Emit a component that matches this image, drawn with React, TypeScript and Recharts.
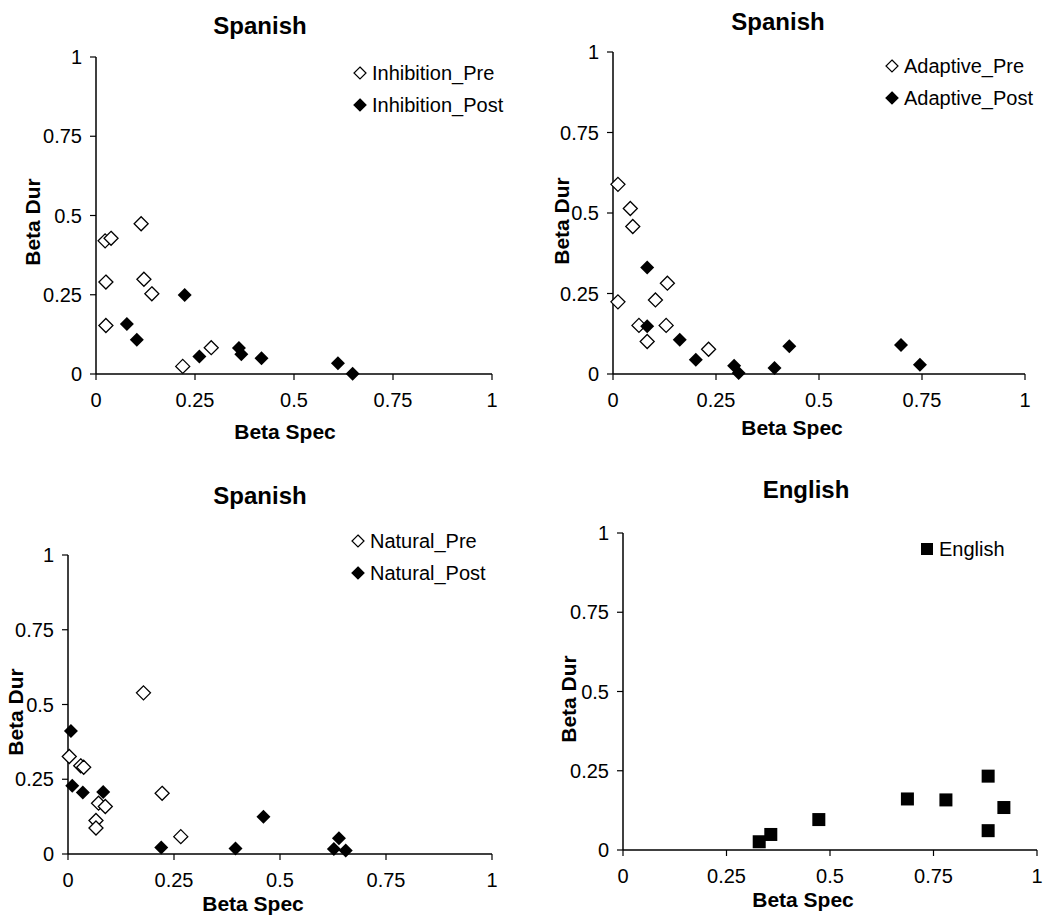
import React from 'react';
import { ScatterChart, Scatter, XAxis, YAxis } from 'recharts';

const axisTicks = [0, 0.25, 0.5, 0.75, 1];

const inhibitionPre = [
  { x: 0.023, y: 0.42 },
  { x: 0.038, y: 0.428 },
  { x: 0.114, y: 0.474 },
  { x: 0.025, y: 0.29 },
  { x: 0.121, y: 0.299 },
  { x: 0.141, y: 0.253 },
  { x: 0.025, y: 0.153 },
  { x: 0.219, y: 0.024 },
  { x: 0.291, y: 0.083 },
];
const inhibitionPost = [
  { x: 0.224, y: 0.249 },
  { x: 0.078, y: 0.158 },
  { x: 0.103, y: 0.108 },
  { x: 0.261, y: 0.055 },
  { x: 0.361, y: 0.082 },
  { x: 0.367, y: 0.062 },
  { x: 0.418, y: 0.05 },
  { x: 0.611, y: 0.034 },
  { x: 0.648, y: 0.001 },
];

const adaptivePre = [
  { x: 0.012, y: 0.589 },
  { x: 0.042, y: 0.514 },
  { x: 0.048, y: 0.458 },
  { x: 0.012, y: 0.224 },
  { x: 0.132, y: 0.282 },
  { x: 0.103, y: 0.23 },
  { x: 0.063, y: 0.151 },
  { x: 0.129, y: 0.151 },
  { x: 0.083, y: 0.101 },
  { x: 0.232, y: 0.077 },
];
const adaptivePost = [
  { x: 0.083, y: 0.331 },
  { x: 0.083, y: 0.148 },
  { x: 0.162, y: 0.106 },
  { x: 0.201, y: 0.044 },
  { x: 0.294, y: 0.026 },
  { x: 0.305, y: 0.003 },
  { x: 0.392, y: 0.019 },
  { x: 0.428, y: 0.086 },
  { x: 0.699, y: 0.09 },
  { x: 0.745, y: 0.029 },
];

const naturalPre = [
  { x: 0.178, y: 0.539 },
  { x: 0.003, y: 0.326 },
  { x: 0.03, y: 0.295 },
  { x: 0.037, y: 0.29 },
  { x: 0.222, y: 0.203 },
  { x: 0.072, y: 0.17 },
  { x: 0.088, y: 0.159 },
  { x: 0.066, y: 0.112 },
  { x: 0.066, y: 0.087 },
  { x: 0.266, y: 0.058 },
];
const naturalPost = [
  { x: 0.007, y: 0.411 },
  { x: 0.01, y: 0.228 },
  { x: 0.035, y: 0.206 },
  { x: 0.083, y: 0.207 },
  { x: 0.461, y: 0.125 },
  { x: 0.22, y: 0.022 },
  { x: 0.395, y: 0.018 },
  { x: 0.627, y: 0.017 },
  { x: 0.639, y: 0.053 },
  { x: 0.655, y: 0.012 },
];

const english = [
  { x: 0.329, y: 0.026 },
  { x: 0.357, y: 0.049 },
  { x: 0.473, y: 0.096 },
  { x: 0.687, y: 0.161 },
  { x: 0.78, y: 0.158 },
  { x: 0.882, y: 0.233 },
  { x: 0.92, y: 0.134 },
  { x: 0.882, y: 0.061 },
];

const FONT = '"Liberation Sans", Arial, sans-serif';

type Kind = 'open' | 'filled' | 'square';

// marker drawn around the point centre
const Marker = ({ cx, cy, kind }: { cx: number; cy: number; kind: Kind }) => {
  if (kind === 'square') {
    const h = 6.5;
    return <rect x={cx - h} y={cy - h} width={h * 2} height={h * 2} fill="#000" />;
  }
  const r = 7;
  const pts = `${cx},${cy - r} ${cx + r},${cy} ${cx},${cy + r} ${cx - r},${cy}`;
  return kind === 'open' ? (
    <polygon points={pts} fill="#fff" stroke="#000" strokeWidth={1.3} />
  ) : (
    <polygon points={pts} fill="#000" />
  );
};

type Series = { name: string; data: { x: number; y: number }[]; kind: Kind };

type PanelProps = {
  box: [number, number, number, number];
  title: string;
  titleAt: [number, number];
  xLabelAt: [number, number];
  yLabelAt: [number, number];
  legendAt: [number, number];
  series: Series[];
};

const tickStyle = { fill: '#000', fontSize: 20, fontFamily: FONT };

const Panel = ({ box, title, titleAt, xLabelAt, yLabelAt, legendAt, series }: PanelProps) => {
  const [x0, y0, x1, y1] = box;
  const padL = 70;
  const padT = 12;
  const padR = 20;
  const padB = 45;
  return (
    <>
      <div style={{ position: 'absolute', left: x0 - padL, top: y0 - padT }}>
        <ScatterChart
          width={x1 - x0 + padL + padR}
          height={y1 - y0 + padT + padB}
          margin={{ top: padT, right: padR, left: 0, bottom: 0 }}
        >
          <XAxis
            type="number"
            dataKey="x"
            domain={[0, 1]}
            ticks={axisTicks}
            height={padB}
            tick={tickStyle}
            fontSize={20}
            tickSize={6}
            tickMargin={13}
            axisLine={{ stroke: '#000', strokeWidth: 1.5 }}
            tickLine={{ stroke: '#000', strokeWidth: 1.2 }}
          />
          <YAxis
            type="number"
            dataKey="y"
            domain={[0, 1]}
            ticks={axisTicks}
            width={padL}
            tick={tickStyle}
            fontSize={20}
            tickSize={6}
            tickMargin={8}
            axisLine={{ stroke: '#000', strokeWidth: 1.5 }}
            tickLine={{ stroke: '#000', strokeWidth: 1.2 }}
          />
          {series.map((s) => (
            <Scatter
              key={s.name}
              name={s.name}
              data={s.data}
              isAnimationActive={false}
              shape={(p: any) => <Marker cx={p.cx} cy={p.cy} kind={s.kind} />}
            />
          ))}
        </ScatterChart>
      </div>
      <div
        style={{
          position: 'absolute',
          left: titleAt[0],
          top: titleAt[1],
          transform: 'translate(-50%, -50%)',
          fontWeight: 'bold',
          fontSize: 24,
          whiteSpace: 'nowrap',
        }}
      >
        {title}
      </div>
      <div
        style={{
          position: 'absolute',
          left: xLabelAt[0],
          top: xLabelAt[1],
          transform: 'translate(-50%, -50%)',
          fontWeight: 'bold',
          fontSize: 21,
          whiteSpace: 'nowrap',
        }}
      >
        Beta Spec
      </div>
      <div
        style={{
          position: 'absolute',
          left: yLabelAt[0],
          top: yLabelAt[1],
          transform: 'translate(-50%, -50%) rotate(-90deg)',
          fontWeight: 'bold',
          fontSize: 21,
          whiteSpace: 'nowrap',
        }}
      >
        Beta Dur
      </div>
      {series.map((s, i) => (
        <div
          key={s.name}
          style={{
            position: 'absolute',
            left: legendAt[0] - 8,
            top: legendAt[1] + i * 32 - 12,
            height: 24,
            display: 'flex',
            alignItems: 'center',
            fontSize: 20,
            whiteSpace: 'nowrap',
          }}
        >
          <svg width={16} height={24} style={{ marginRight: 4 }}>
            {s.kind === 'square' ? (
              <rect x={2} y={6} width={12} height={12} fill="#000" />
            ) : (
              <polygon
                points="8,6 14,12 8,18 2,12"
                fill={s.kind === 'open' ? '#fff' : '#000'}
                stroke="#000"
                strokeWidth={1.2}
              />
            )}
          </svg>
          {s.name}
        </div>
      ))}
    </>
  );
};

const App = () => (
  <div
    style={{
      position: 'absolute',
      left: 0,
      top: 0,
      width: 1050,
      height: 923,
      background: '#fff',
      fontFamily: FONT,
      color: '#000',
    }}
  >
    <Panel
      box={[96, 57, 492, 374]}
      title="Spanish"
      titleAt={[260, 26]}
      xLabelAt={[285, 432]}
      yLabelAt={[33, 222]}
      legendAt={[360, 73]}
      series={[
        { name: 'Inhibition_Pre', data: inhibitionPre, kind: 'open' },
        { name: 'Inhibition_Post', data: inhibitionPost, kind: 'filled' },
      ]}
    />
    <Panel
      box={[613, 52, 1025, 374]}
      title="Spanish"
      titleAt={[778, 22]}
      xLabelAt={[792, 428]}
      yLabelAt={[562, 221]}
      legendAt={[892, 66]}
      series={[
        { name: 'Adaptive_Pre', data: adaptivePre, kind: 'open' },
        { name: 'Adaptive_Post', data: adaptivePost, kind: 'filled' },
      ]}
    />
    <Panel
      box={[68, 555, 492, 854]}
      title="Spanish"
      titleAt={[260, 496]}
      xLabelAt={[253, 904]}
      yLabelAt={[16, 712]}
      legendAt={[358, 541]}
      series={[
        { name: 'Natural_Pre', data: naturalPre, kind: 'open' },
        { name: 'Natural_Post', data: naturalPost, kind: 'filled' },
      ]}
    />
    <Panel
      box={[623, 533, 1037, 850]}
      title="English"
      titleAt={[806, 490]}
      xLabelAt={[803, 900]}
      yLabelAt={[569, 699]}
      legendAt={[927, 549]}
      series={[{ name: 'English', data: english, kind: 'square' }]}
    />
  </div>
);

export default App;
